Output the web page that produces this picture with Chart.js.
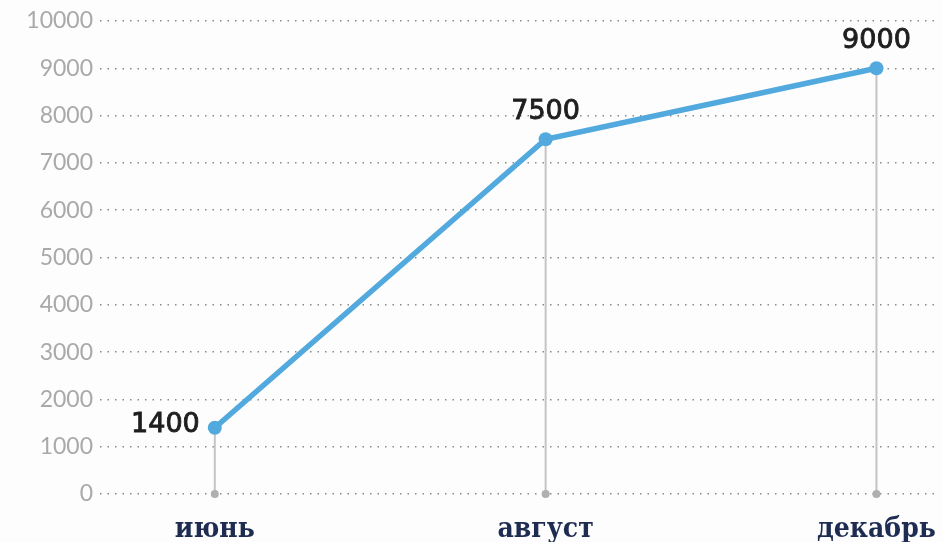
<!DOCTYPE html>
<html>
<head>
<meta charset="utf-8">
<script src="https://cdn.jsdelivr.net/npm/chart.js@4"></script>
<style>
  html, body { margin: 0; padding: 0; background: #fdfdfd; }
  #wrap { width: 943px; height: 542px; }
</style>
</head>
<body>
<div id="wrap"><canvas id="chart"></canvas></div>
<script>
// data
const months = ["июнь", "август", "декабрь"];
const values = [1400, 7500, 9000];
const yTicks = [0, 1000, 2000, 3000, 4000, 5000, 6000, 7000, 8000, 9000, 10000];

const lineColor = "#52a9de";

// vertical stems from each point down to zero, plus value labels
const stemsAndLabels = {
  id: "stemsAndLabels",
  beforeDatasetsDraw(chart) {
    const ctx = chart.ctx;
    const y0 = chart.scales.y.getPixelForValue(0);
    const meta = chart.getDatasetMeta(0);
    ctx.save();
    meta.data.forEach((pt) => {
      ctx.strokeStyle = "#c4c4c4";
      ctx.lineWidth = 2;
      ctx.beginPath();
      ctx.moveTo(pt.x, pt.y);
      ctx.lineTo(pt.x, y0);
      ctx.stroke();
      ctx.fillStyle = "#b0b0b0";
      ctx.beginPath();
      ctx.arc(pt.x, y0, 4, 0, Math.PI * 2);
      ctx.fill();
    });
    ctx.restore();
  },
  afterDatasetsDraw(chart) {
    const ctx = chart.ctx;
    const meta = chart.getDatasetMeta(0);
    ctx.save();
    ctx.fillStyle = "#1f1f1f";
    ctx.strokeStyle = "#1f1f1f";
    ctx.lineWidth = 0.9;
    ctx.font = "27px 'DejaVu Sans'";
    meta.data.forEach((pt, i) => {
      const txt = String(values[i]);
      let tx, ty;
      if (i === 0) {
        // first label sits to the left of its point
        ctx.textAlign = "right";
        ctx.textBaseline = "middle";
        tx = pt.x - 15;
        ty = pt.y - 3;
      } else {
        ctx.textAlign = "center";
        ctx.textBaseline = "bottom";
        tx = pt.x;
        ty = pt.y - 14;
      }
      ctx.fillText(txt, tx, ty);
      ctx.strokeText(txt, tx, ty);
    });
    ctx.restore();
  },
};

const ctx = document.getElementById("chart");

new Chart(ctx, {
  type: "line",
  data: {
    datasets: [
      {
        data: values.map((v, i) => ({ x: i, y: v })),
        borderColor: lineColor,
        backgroundColor: lineColor,
        borderWidth: 5.5,
        pointRadius: 7,
        pointHoverRadius: 7,
        pointBackgroundColor: lineColor,
        pointBorderWidth: 0,
        tension: 0,
        fill: false,
      },
    ],
  },
  options: {
    responsive: true,
    maintainAspectRatio: false,
    animation: false,
    layout: {
      padding: { top: 21, right: 0, bottom: 0, left: 0 },
    },
    plugins: {
      legend: { display: false },
      tooltip: { enabled: false },
    },
    scales: {
      x: {
        type: "linear",
        min: -0.347,
        max: 2.18,
        afterBuildTicks: (scale) => {
          scale.ticks = months.map((m, i) => ({ value: i }));
        },
        afterFit: (scale) => {
          scale.height = 48;
          scale.paddingLeft = 0;
          scale.paddingRight = 0;
        },
        grid: { display: false, drawTicks: false },
        border: { display: false },
        ticks: {
          padding: 19,
          color: "#1e2c52",
          font: { family: "DejaVu Serif Condensed", size: 28, weight: "bold" },
          callback: (v) => months[v],
          maxRotation: 0,
          autoSkip: false,
        },
      },
      y: {
        min: 0,
        max: 10000,
        afterBuildTicks: (scale) => {
          scale.ticks = yTicks.map((v) => ({ value: v }));
        },
        afterFit: (scale) => {
          scale.width = 100;
        },
        border: { display: false, dash: [1.5, 6] },
        grid: {
          color: "#8a8a8a",
          lineWidth: 1.5,
          drawTicks: false,
        },
        ticks: {
          padding: 7,
          color: "#a9a9a9",
          font: { family: "Lato", size: 23 },
          callback: (v) => String(v),
        },
      },
    },
  },
  plugins: [stemsAndLabels],
});
</script>
</body>
</html>
